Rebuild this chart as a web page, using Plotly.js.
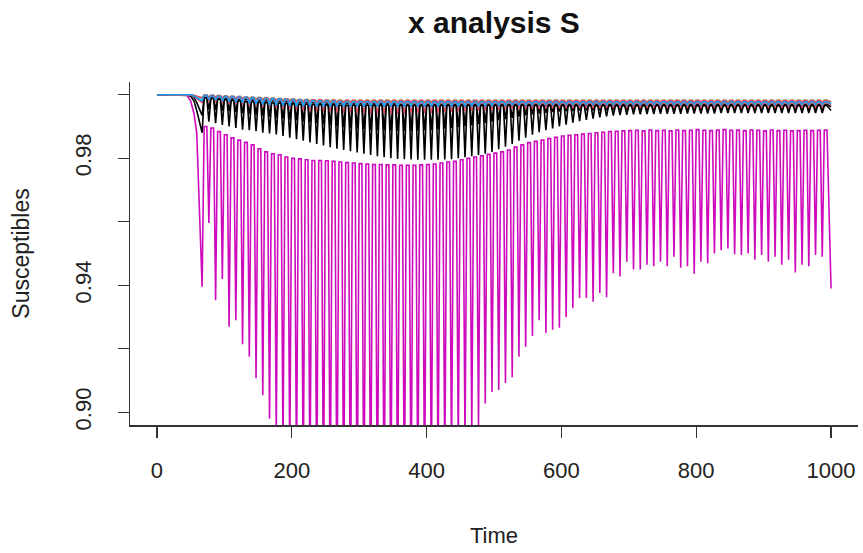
<!DOCTYPE html>
<html><head><meta charset="utf-8">
<script src="https://cdn.plot.ly/plotly-3.0.1.min.js"></script>
<style>html,body{margin:0;padding:0;background:#fff}#chart{width:863px;height:553px}</style>
</head><body><div id="chart"></div>
<script>
// ---- time grid ----
const leadTimes = [0, 44, 50, 55, 59];
const troughTimes = [67,77,87,97,107,117,127,137,147,157,
 167,177,187,197,207,217,227,237,247,257,
 267,277,287,297,307,317,327,337,347,357,
 367,377,387,397,407,417,427,437,447,457,
 467,477,487,497,507,517,527,537,547,557,
 567,577,587,597,607,617,627,637,647,657,
 667,677,687,697,707,717,727,737,747,757,
 767,777,787,797,807,817,827,837,847,857,
 867,877,887,897,907,917,927,937,947,957,
 967,977,987];
// each cycle: flat top from plateauStart to plateauEnd, then a sharp dip
const plateauStartTimes = [70,80,90,100,110,120,130,140,150,160,
 170,180,190,200,210,220,230,240,250,260,
 270,280,290,300,310,320,330,340,350,360,
 370,380,390,400,410,420,430,440,450,460,
 470,480,490,500,510,520,530,540,550,560,
 570,580,590,600,610,620,630,640,650,660,
 670,680,690,700,710,720,730,740,750,760,
 770,780,790,800,810,820,830,840,850,860,
 870,880,890,900,910,920,930,940,950,960,
 970,980,990];
const plateauEndTimes = [74,84,94,104,114,124,134,144,154,164,
 174,184,194,204,214,224,234,244,254,264,
 274,284,294,304,314,324,334,344,354,364,
 374,384,394,404,414,424,434,444,454,464,
 474,484,494,504,514,524,534,544,554,564,
 574,584,594,604,614,624,634,644,654,664,
 674,684,694,704,714,724,734,744,754,764,
 774,784,794,804,814,824,834,844,854,864,
 874,884,894,904,914,924,934,944,954,964,
 974,984,994];
const endTime = 1000;

// ---- black series A ----
const blackALead = [1, 1, 0.9998, 0.9992, 0.9975];
const blackATrough = [0.9935,0.9955,0.9952,0.9950,0.9948,0.9945,0.9942,0.9940,0.9937,0.9934,
 0.9931,0.9928,0.9925,0.9922,0.9919,0.9916,0.9913,0.9910,0.9907,0.9904,
 0.9901,0.9898,0.9896,0.9894,0.9892,0.9890,0.9889,0.9888,0.9887,0.9886,
 0.9886,0.9886,0.9887,0.9888,0.9889,0.9891,0.9893,0.9895,0.9898,0.9901,
 0.9904,0.9907,0.9911,0.9915,0.9919,0.9923,0.9927,0.9931,0.9935,0.9938,
 0.9941,0.9943,0.9945,0.9947,0.9948,0.9949,0.9950,0.9950,0.9951,0.9951,
 0.9951,0.9952,0.9952,0.9952,0.9952,0.9953,0.9953,0.9953,0.9953,0.9953,
 0.9953,0.9953,0.9953,0.9953,0.9953,0.9953,0.9953,0.9953,0.9953,0.9953,
 0.9953,0.9953,0.9953,0.9953,0.9953,0.9953,0.9953,0.9953,0.9953,0.9953,
 0.9953,0.9953,0.9953];
const blackAPeak = [0.9992,0.9990,0.9989,0.9988,0.9986,0.9985,0.9984,0.9983,0.9982,0.9981,
 0.9980,0.9979,0.9978,0.9977,0.9976,0.9975,0.9975,0.9974,0.9974,0.9973,
 0.9973,0.9973,0.9972,0.9972,0.9972,0.9971,0.9971,0.9971,0.9971,0.9970,
 0.9970,0.9970,0.9970,0.9970,0.9970,0.9970,0.9970,0.9970,0.9970,0.9970,
 0.9970,0.9970,0.9970,0.9970,0.9970,0.9970,0.9970,0.9970,0.9970,0.9970,
 0.9970,0.9970,0.9970,0.9970,0.9970,0.9970,0.9970,0.9970,0.9970,0.9970,
 0.9970,0.9970,0.9970,0.9970,0.9970,0.9970,0.9970,0.9970,0.9970,0.9970,
 0.9970,0.9970,0.9970,0.9970,0.9970,0.9970,0.9970,0.9970,0.9970,0.9970,
 0.9970,0.9970,0.9970,0.9970,0.9970,0.9970,0.9970,0.9970,0.9970,0.9970,
 0.9970,0.9970,0.9970];
const blackAEnd = 0.9962;

// ---- red series A ----
const redALead = [1, 1, 0.9999, 0.9995, 0.9988];
const redATrough = [0.9975,0.9978,0.9976,0.9974,0.9972,0.9970,0.9968,0.9966,0.9964,0.9962,
 0.9960,0.9958,0.9956,0.9954,0.9952,0.9950,0.9948,0.9947,0.9946,0.9945,
 0.9944,0.9943,0.9942,0.9941,0.9941,0.9940,0.9940,0.9940,0.9940,0.9940,
 0.9940,0.9941,0.9941,0.9942,0.9943,0.9944,0.9945,0.9946,0.9947,0.9948,
 0.9949,0.9950,0.9951,0.9952,0.9953,0.9954,0.9955,0.9955,0.9956,0.9956,
 0.9956,0.9957,0.9957,0.9957,0.9957,0.9957,0.9957,0.9957,0.9957,0.9957,
 0.9957,0.9957,0.9957,0.9957,0.9957,0.9957,0.9957,0.9957,0.9957,0.9957,
 0.9957,0.9957,0.9957,0.9957,0.9957,0.9957,0.9957,0.9957,0.9957,0.9957,
 0.9957,0.9957,0.9957,0.9957,0.9957,0.9957,0.9957,0.9957,0.9957,0.9957,
 0.9957,0.9957,0.9957];
const redAPeak = [0.9996,0.9994,0.9993,0.9992,0.9991,0.9990,0.9989,0.9988,0.9987,0.9986,
 0.9985,0.9984,0.9983,0.9982,0.9981,0.9980,0.9980,0.9979,0.9979,0.9978,
 0.9978,0.9978,0.9978,0.9977,0.9977,0.9977,0.9977,0.9977,0.9977,0.9977,
 0.9976,0.9976,0.9976,0.9976,0.9976,0.9976,0.9976,0.9976,0.9976,0.9976,
 0.9976,0.9976,0.9976,0.9976,0.9976,0.9976,0.9976,0.9976,0.9976,0.9976,
 0.9976,0.9976,0.9976,0.9976,0.9976,0.9976,0.9976,0.9976,0.9976,0.9976,
 0.9976,0.9976,0.9976,0.9976,0.9976,0.9976,0.9976,0.9976,0.9976,0.9976,
 0.9976,0.9976,0.9976,0.9976,0.9976,0.9976,0.9976,0.9976,0.9976,0.9976,
 0.9976,0.9976,0.9976,0.9976,0.9976,0.9976,0.9976,0.9976,0.9976,0.9976,
 0.9976,0.9976,0.9976];
const redAEnd = 0.9966;

// ---- green series ----
const greenLead = [1, 1, 1, 0.9998, 0.9995];
const greenTrough = [0.9990,0.9992,0.9991,0.9990,0.9989,0.9988,0.9987,0.9986,0.9985,0.9984,
 0.9983,0.9982,0.9981,0.9980,0.9980,0.9979,0.9979,0.9978,0.9978,0.9978,
 0.9977,0.9977,0.9977,0.9977,0.9977,0.9977,0.9977,0.9977,0.9977,0.9977,
 0.9977,0.9977,0.9977,0.9977,0.9977,0.9977,0.9977,0.9977,0.9977,0.9977,
 0.9977,0.9977,0.9977,0.9977,0.9977,0.9976,0.9976,0.9976,0.9976,0.9976,
 0.9976,0.9976,0.9976,0.9976,0.9976,0.9976,0.9976,0.9976,0.9976,0.9976,
 0.9976,0.9976,0.9976,0.9976,0.9976,0.9976,0.9976,0.9976,0.9976,0.9976,
 0.9976,0.9976,0.9976,0.9976,0.9976,0.9976,0.9976,0.9976,0.9976,0.9976,
 0.9976,0.9976,0.9976,0.9976,0.9976,0.9976,0.9976,0.9976,0.9976,0.9976,
 0.9976,0.9976,0.9976];
const greenPeak = [0.9999,0.9998,0.9997,0.9996,0.9995,0.9994,0.9993,0.9992,0.9991,0.9990,
 0.9989,0.9988,0.9987,0.9986,0.9985,0.9985,0.9984,0.9984,0.9983,0.9983,
 0.9982,0.9982,0.9982,0.9982,0.9982,0.9982,0.9982,0.9982,0.9982,0.9982,
 0.9982,0.9982,0.9982,0.9982,0.9982,0.9982,0.9982,0.9982,0.9982,0.9982,
 0.9982,0.9982,0.9982,0.9982,0.9982,0.9982,0.9982,0.9982,0.9982,0.9982,
 0.9982,0.9982,0.9982,0.9982,0.9982,0.9982,0.9982,0.9982,0.9982,0.9982,
 0.9982,0.9982,0.9982,0.9982,0.9982,0.9982,0.9982,0.9982,0.9982,0.9982,
 0.9982,0.9982,0.9982,0.9982,0.9982,0.9982,0.9982,0.9982,0.9982,0.9982,
 0.9982,0.9982,0.9982,0.9982,0.9982,0.9982,0.9982,0.9982,0.9982,0.9982,
 0.9982,0.9982,0.9982];
const greenEnd = 0.9978;

// ---- cyan series ----
const cyanLead = [1, 1, 1, 0.9997, 0.9992];
const cyanTrough = [0.9986,0.9989,0.9988,0.9987,0.9986,0.9985,0.9984,0.9983,0.9982,0.9981,
 0.9980,0.9979,0.9978,0.9977,0.9976,0.9975,0.9974,0.9973,0.9972,0.9971,
 0.9970,0.9970,0.9970,0.9970,0.9970,0.9970,0.9970,0.9970,0.9970,0.9970,
 0.9970,0.9970,0.9970,0.9970,0.9970,0.9970,0.9970,0.9970,0.9970,0.9970,
 0.9970,0.9970,0.9970,0.9971,0.9971,0.9971,0.9971,0.9971,0.9971,0.9971,
 0.9971,0.9971,0.9971,0.9971,0.9971,0.9971,0.9971,0.9971,0.9971,0.9971,
 0.9971,0.9971,0.9971,0.9971,0.9971,0.9971,0.9971,0.9971,0.9971,0.9971,
 0.9971,0.9971,0.9971,0.9971,0.9971,0.9971,0.9971,0.9971,0.9971,0.9971,
 0.9971,0.9971,0.9971,0.9971,0.9971,0.9971,0.9971,0.9971,0.9971,0.9971,
 0.9971,0.9971,0.9971];
const cyanPeak = [0.9998,0.9997,0.9996,0.9995,0.9994,0.9993,0.9992,0.9991,0.9990,0.9989,
 0.9988,0.9987,0.9986,0.9985,0.9984,0.9983,0.9982,0.9982,0.9981,0.9981,
 0.9980,0.9980,0.9980,0.9980,0.9980,0.9980,0.9980,0.9980,0.9980,0.9980,
 0.9980,0.9980,0.9980,0.9980,0.9980,0.9980,0.9980,0.9980,0.9980,0.9980,
 0.9980,0.9980,0.9980,0.9980,0.9980,0.9980,0.9980,0.9980,0.9980,0.9980,
 0.9980,0.9980,0.9980,0.9980,0.9980,0.9980,0.9980,0.9980,0.9980,0.9980,
 0.9980,0.9980,0.9980,0.9980,0.9980,0.9980,0.9980,0.9980,0.9980,0.9980,
 0.9980,0.9980,0.9980,0.9980,0.9980,0.9980,0.9980,0.9980,0.9980,0.9980,
 0.9980,0.9980,0.9980,0.9980,0.9980,0.9980,0.9980,0.9980,0.9980,0.9980,
 0.9980,0.9980,0.9980];
const cyanEnd = 0.9973;

// ---- magenta series (large oscillation) ----
const magentaLead = [1, 1, 0.998, 0.994, 0.988];
const magentaTrough = [0.9395,0.9596,0.9353,0.9420,0.9269,0.9290,0.9214,0.9175,0.9107,0.9054,
 0.8980,0.8930,0.8890,0.8850,0.8815,0.8780,0.8750,0.8720,0.8695,0.8675,
 0.8660,0.8648,0.8640,0.8635,0.8632,0.8632,0.8635,0.8640,0.8648,0.8660,
 0.8672,0.8690,0.8712,0.8738,0.8765,0.8795,0.8825,0.8855,0.8885,0.8910,
 0.8935,0.8955,0.9028,0.9064,0.9070,0.9092,0.9110,0.9175,0.9206,0.9240,
 0.9290,0.9250,0.9260,0.9266,0.9300,0.9328,0.9360,0.9360,0.9348,0.9376,
 0.9362,0.9438,0.9428,0.9474,0.9450,0.9450,0.9465,0.9460,0.9474,0.9460,
 0.9490,0.9455,0.9460,0.9436,0.9474,0.9469,0.9500,0.9510,0.9516,0.9498,
 0.9495,0.9500,0.9480,0.9495,0.9474,0.9490,0.9465,0.9480,0.9440,0.9465,
 0.9460,0.9495,0.9490];
const magentaPeak = [0.9900,0.9895,0.9884,0.9874,0.9864,0.9857,0.9850,0.9842,0.9830,0.9820,
 0.9814,0.9811,0.9804,0.9800,0.9798,0.9795,0.9793,0.9793,0.9792,0.9790,
 0.9788,0.9786,0.9785,0.9783,0.9782,0.9780,0.9780,0.9779,0.9779,0.9778,
 0.9778,0.9778,0.9779,0.9780,0.9782,0.9785,0.9788,0.9790,0.9795,0.9800,
 0.9804,0.9808,0.9812,0.9816,0.9820,0.9826,0.9835,0.9842,0.9849,0.9853,
 0.9857,0.9862,0.9866,0.9870,0.9872,0.9874,0.9876,0.9878,0.9880,0.9882,
 0.9884,0.9885,0.9886,0.9887,0.9888,0.9886,0.9889,0.9887,0.9888,0.9886,
 0.9889,0.9887,0.9888,0.9890,0.9888,0.9887,0.9889,0.9890,0.9888,0.9889,
 0.9887,0.9889,0.9888,0.9886,0.9889,0.9887,0.9888,0.9886,0.9887,0.9888,
 0.9887,0.9888,0.9889];
const magentaEnd = 0.9390;

// ---- black series B (medium oscillation) ----
const blackBLead = [1, 1, 0.9995, 0.9980, 0.9950];
const blackBTrough = [0.9880,0.9915,0.9910,0.9905,0.9900,0.9895,0.9890,0.9888,0.9885,0.9880,
 0.9878,0.9875,0.9870,0.9865,0.9860,0.9855,0.9850,0.9845,0.9840,0.9835,
 0.9830,0.9826,0.9822,0.9818,0.9814,0.9810,0.9806,0.9803,0.9800,0.9798,
 0.9797,0.9796,0.9795,0.9795,0.9795,0.9795,0.9796,0.9797,0.9800,0.9803,
 0.9806,0.9810,0.9814,0.9820,0.9828,0.9836,0.9845,0.9855,0.9865,0.9874,
 0.9882,0.9888,0.9894,0.9900,0.9906,0.9912,0.9917,0.9921,0.9925,0.9929,
 0.9932,0.9934,0.9936,0.9937,0.9938,0.9938,0.9939,0.9939,0.9940,0.9940,
 0.9940,0.9940,0.9941,0.9941,0.9941,0.9941,0.9941,0.9942,0.9942,0.9942,
 0.9942,0.9942,0.9942,0.9942,0.9942,0.9942,0.9942,0.9942,0.9942,0.9942,
 0.9942,0.9942,0.9942];
const blackBPeak = [0.9990,0.9988,0.9986,0.9984,0.9982,0.9980,0.9978,0.9977,0.9976,0.9975,
 0.9974,0.9973,0.9972,0.9971,0.9970,0.9970,0.9969,0.9969,0.9968,0.9968,
 0.9967,0.9967,0.9967,0.9967,0.9967,0.9967,0.9967,0.9967,0.9967,0.9967,
 0.9966,0.9966,0.9966,0.9966,0.9966,0.9966,0.9966,0.9966,0.9966,0.9966,
 0.9966,0.9966,0.9966,0.9966,0.9966,0.9966,0.9966,0.9966,0.9966,0.9966,
 0.9965,0.9965,0.9965,0.9965,0.9965,0.9965,0.9965,0.9965,0.9965,0.9965,
 0.9965,0.9965,0.9965,0.9965,0.9965,0.9965,0.9965,0.9965,0.9965,0.9965,
 0.9965,0.9965,0.9965,0.9965,0.9965,0.9965,0.9965,0.9965,0.9965,0.9965,
 0.9965,0.9965,0.9965,0.9965,0.9965,0.9965,0.9965,0.9965,0.9965,0.9965,
 0.9965,0.9965,0.9965];
const blackBEnd = 0.9950;

// ---- red series B (top pink line) ----
const redBLead = [1, 1, 1, 0.9998, 0.9995];
const redBTrough = [0.9990,0.9992,0.9991,0.9990,0.9989,0.9988,0.9987,0.9986,0.9985,0.9984,
 0.9983,0.9982,0.9981,0.9980,0.9979,0.9978,0.9977,0.9976,0.9976,0.9975,
 0.9975,0.9975,0.9975,0.9975,0.9975,0.9975,0.9975,0.9975,0.9975,0.9975,
 0.9975,0.9975,0.9975,0.9975,0.9975,0.9975,0.9975,0.9975,0.9975,0.9975,
 0.9975,0.9975,0.9975,0.9975,0.9975,0.9976,0.9976,0.9976,0.9976,0.9976,
 0.9976,0.9976,0.9976,0.9976,0.9976,0.9976,0.9976,0.9976,0.9976,0.9976,
 0.9976,0.9976,0.9976,0.9976,0.9976,0.9976,0.9976,0.9976,0.9976,0.9976,
 0.9976,0.9976,0.9976,0.9976,0.9976,0.9976,0.9976,0.9976,0.9976,0.9976,
 0.9976,0.9976,0.9976,0.9976,0.9976,0.9976,0.9976,0.9976,0.9976,0.9976,
 0.9976,0.9976,0.9976];
const redBPeak = [0.9999,0.9998,0.9997,0.9996,0.9995,0.9994,0.9993,0.9992,0.9991,0.9990,
 0.9989,0.9988,0.9987,0.9986,0.9985,0.9985,0.9984,0.9984,0.9983,0.9983,
 0.9982,0.9982,0.9982,0.9982,0.9982,0.9982,0.9982,0.9982,0.9982,0.9982,
 0.9982,0.9982,0.9982,0.9982,0.9982,0.9982,0.9982,0.9982,0.9982,0.9982,
 0.9982,0.9982,0.9982,0.9982,0.9982,0.9982,0.9982,0.9982,0.9982,0.9982,
 0.9982,0.9982,0.9982,0.9982,0.9982,0.9982,0.9982,0.9982,0.9982,0.9982,
 0.9982,0.9982,0.9982,0.9982,0.9982,0.9982,0.9982,0.9982,0.9982,0.9982,
 0.9982,0.9982,0.9982,0.9982,0.9982,0.9982,0.9982,0.9982,0.9982,0.9982,
 0.9982,0.9982,0.9982,0.9982,0.9982,0.9982,0.9982,0.9982,0.9982,0.9982,
 0.9982,0.9982,0.9982];
const redBEnd = 0.9978;

// ---- blue series (drawn last) ----
const blueLead = [1, 1, 1, 0.9996, 0.9990];
const blueTrough = [0.9980,0.9984,0.9982,0.9980,0.9978,0.9976,0.9974,0.9972,0.9970,0.9968,
 0.9967,0.9966,0.9965,0.9964,0.9963,0.9963,0.9962,0.9962,0.9962,0.9962,
 0.9962,0.9962,0.9962,0.9962,0.9962,0.9962,0.9962,0.9962,0.9962,0.9962,
 0.9962,0.9962,0.9962,0.9962,0.9962,0.9962,0.9962,0.9962,0.9962,0.9962,
 0.9963,0.9963,0.9964,0.9964,0.9965,0.9965,0.9966,0.9966,0.9967,0.9967,
 0.9968,0.9968,0.9968,0.9968,0.9968,0.9968,0.9968,0.9968,0.9968,0.9968,
 0.9968,0.9968,0.9968,0.9968,0.9968,0.9968,0.9968,0.9968,0.9968,0.9968,
 0.9968,0.9968,0.9968,0.9968,0.9968,0.9968,0.9968,0.9968,0.9968,0.9968,
 0.9968,0.9968,0.9968,0.9968,0.9968,0.9968,0.9968,0.9968,0.9968,0.9968,
 0.9968,0.9968,0.9968];
const bluePeak = [0.9997,0.9996,0.9995,0.9994,0.9993,0.9992,0.9991,0.9990,0.9989,0.9988,
 0.9987,0.9986,0.9985,0.9984,0.9983,0.9982,0.9981,0.9980,0.9980,0.9979,
 0.9978,0.9978,0.9978,0.9978,0.9978,0.9978,0.9978,0.9978,0.9978,0.9978,
 0.9978,0.9978,0.9978,0.9978,0.9978,0.9978,0.9978,0.9978,0.9978,0.9978,
 0.9978,0.9978,0.9978,0.9978,0.9978,0.9978,0.9978,0.9978,0.9978,0.9978,
 0.9978,0.9978,0.9978,0.9978,0.9978,0.9978,0.9978,0.9978,0.9978,0.9978,
 0.9978,0.9978,0.9978,0.9978,0.9978,0.9978,0.9978,0.9978,0.9978,0.9978,
 0.9978,0.9978,0.9978,0.9978,0.9978,0.9978,0.9978,0.9978,0.9978,0.9978,
 0.9978,0.9978,0.9978,0.9978,0.9978,0.9978,0.9978,0.9978,0.9978,0.9978,
 0.9978,0.9978,0.9978];
const blueEnd = 0.9970;

// ---- axis ticks ----
const xTickVals = [0, 200, 400, 600, 800, 1000];
const xTickText = ['0', '200', '400', '600', '800', '1000'];
const yTickVals = [0.90, 0.92, 0.94, 0.96, 0.98, 1.00];
const yTickText = ['0.90', '', '0.94', '', '0.98', ''];

function buildXY(lead, troughs, peaks, endVal) {
  const x = leadTimes.slice(), y = lead.slice();
  for (let k = 0; k < troughTimes.length; k++) {
    x.push(troughTimes[k]); y.push(troughs[k]);
    x.push(plateauStartTimes[k]); y.push(peaks[k]);
    x.push(plateauEndTimes[k]); y.push(peaks[k]);
  }
  x.push(endTime); y.push(endVal);
  return {x, y};
}

const seriesDefs = [
  [blackALead, blackATrough, blackAPeak, blackAEnd, '#000000'],
  [redALead, redATrough, redAPeak, redAEnd, '#DF536B'],
  [greenLead, greenTrough, greenPeak, greenEnd, '#61D04F'],
  [cyanLead, cyanTrough, cyanPeak, cyanEnd, '#28E2E5'],
  [magentaLead, magentaTrough, magentaPeak, magentaEnd, '#CD0BBC'],
  [blackBLead, blackBTrough, blackBPeak, blackBEnd, '#000000'],
  [redBLead, redBTrough, redBPeak, redBEnd, '#DF536B'],
  [blueLead, blueTrough, bluePeak, blueEnd, '#2297E6']
];

const traces = seriesDefs.map(d => {
  const xy = buildXY(d[0], d[1], d[2], d[3]);
  return {x: xy.x, y: xy.y, type: 'scatter', mode: 'lines',
    line: {color: d[4], width: 1.6}, showlegend: false, hoverinfo: 'skip'};
});

const FONT = 'Liberation Sans, Arial, Helvetica, sans-serif';
const layout = {
  width: 863, height: 553,
  margin: {l: 130, r: 5, t: 82, b: 128, pad: 0},
  paper_bgcolor: '#fff', plot_bgcolor: '#fff',
  font: {family: FONT, color: '#222'},
  title: {text: '<b>x analysis S</b>', x: 0.5, xref: 'paper', xanchor: 'center',
    y: 1 - 22/553, yref: 'container', yanchor: 'middle',
    font: {size: 30, family: FONT, color: '#111'}},
  xaxis: {range: [-40, 1040], tickmode: 'array', tickvals: xTickVals, ticktext: xTickText,
    ticks: 'outside', ticklen: 11, tickwidth: 1.3, tickcolor: '#333',
    showline: true, linecolor: '#333', linewidth: 1.5, showgrid: false, zeroline: false,
    tickfont: {size: 22, family: FONT, color: '#222'}, ticklabelstandoff: 14,
    title: {text: 'Time', font: {size: 22, family: FONT, color: '#222'}, standoff: 45},
    fixedrange: true},
  yaxis: {range: [0.896, 1.004], tickmode: 'array', tickvals: yTickVals, ticktext: yTickText,
    ticks: 'outside', ticklen: 11, tickwidth: 1.3, tickcolor: '#333', tickangle: -90,
    showline: true, linecolor: '#333', linewidth: 1.5, showgrid: false, zeroline: false,
    tickfont: {size: 22, family: FONT, color: '#222'}, ticklabelstandoff: 18,
    title: {text: 'Susceptibles', font: {size: 23, family: FONT, color: '#222'}, standoff: 34},
    fixedrange: true}
};

Plotly.newPlot('chart', traces, layout, {staticPlot: true, displayModeBar: false});
</script></body></html>
